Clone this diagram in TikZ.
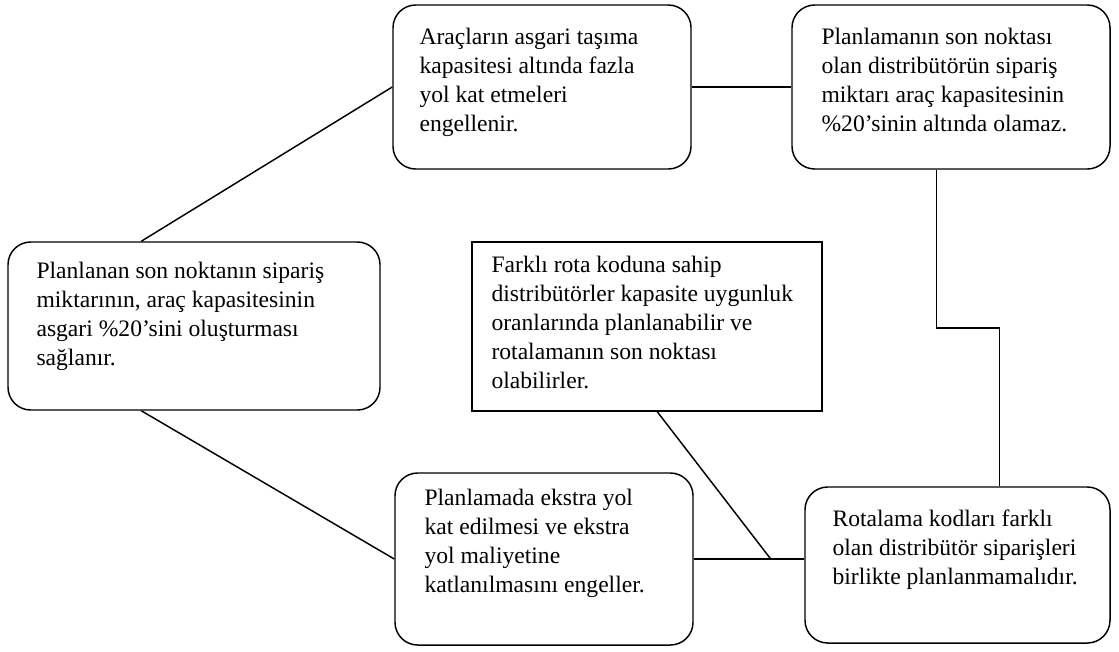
\documentclass[tikz,border=0pt]{standalone}
\usepackage{fontspec}
\setmainfont{Liberation Serif}
\usetikzlibrary{calc,fit}

\tikzset{
  rbox/.style={draw, line width=1.1pt, rounded corners=17pt, inner sep=0pt},
  sbox/.style={draw, line width=1.1pt, inner sep=0pt},
  txt/.style={anchor=north west, inner sep=0pt, align=left,
              font=\fontsize{17.7}{21.75}\selectfont},
  link/.style={line width=1.1pt},
}

\begin{document}
\begin{tikzpicture}[x=0.75pt, y=-0.75pt]
\useasboundingbox (0,0) rectangle (1119,651);

% frames
\node[rbox, fit={(393,5) (691,169)}] (b1) {};
\node[rbox, fit={(792,5) (1110,169)}] (b2) {};
\node[rbox, fit={(8,242) (380,410)}] (b3) {};
\node[sbox, fit={(472,242) (822,411)}] (b4) {};
\node[rbox, fit={(395,473) (693,645)}] (b5) {};
\node[rbox, fit={(805,487) (1110,643)}] (b6) {};

% texts, top-left aligned inside each frame
\node[txt] (t1) at ($(b1.north west)+(27,24)$)
  {Araçların asgari taşıma\\kapasitesi altında fazla\\yol kat etmeleri\\engellenir.};
\node[txt] (t2) at ($(b2.north west)+(30,24)$)
  {Planlamanın son noktası\\olan distribütörün sipariş\\miktarı araç kapasitesinin\\\%20’sinin altında olamaz.};
\node[txt] (t3) at ($(b3.north west)+(29,21)$)
  {Planlanan son noktanın sipariş\\miktarının, araç kapasitesinin\\asgari \%20’sini oluşturması\\sağlanır.};
\node[txt] (t4) at ($(b4.north west)+(20,15)$)
  {Farklı rota koduna sahip\\distribütörler kapasite uygunluk\\oranlarında planlanabilir ve\\rotalamanın son noktası\\olabilirler.};
\node[txt] (t5) at ($(b5.north west)+(30,17)$)
  {Planlamada ekstra yol\\kat edilmesi ve ekstra\\yol maliyetine\\katlanılmasını engeller.};
\node[txt] (t6) at ($(b6.north west)+(28,23)$)
  {Rotalama kodları farklı\\olan distribütör siparişleri\\birlikte planlanmamalıdır.};

% connection points
\coordinate (b3top) at ($(b3.north west)+(134,0)$);
\coordinate (b3bot) at ($(b3.south west)+(134,0)$);
\coordinate (b2out) at ($(b2.south west)+(145,0)$);
\coordinate (b6in) at ($(b6.north west)+(195,0)$);
\coordinate (step) at (0,328);
\coordinate (b4out) at ($(b4.south west)+(186,0)$);
\coordinate (join) at ($(b5.east)+(77,0)$);

% connectors
\draw[link] (b3top) -- (b1.west);
\draw[link] (b1.east) -- (b1.east -| b2.west);
\draw[link] (b2out) -- (b2out |- step) -- (b6in |- step) -- (b6in);
\draw[link] (b3bot) -- (b5.west);
\draw[link] (b5.east) -- (b5.east -| b6.west);
\draw[link] (b4out) -- (join);
\end{tikzpicture}
\end{document}
